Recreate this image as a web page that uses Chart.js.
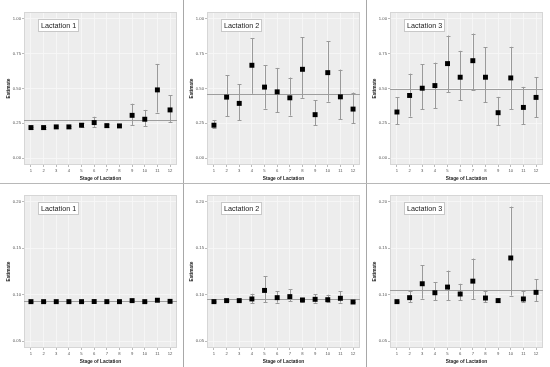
<!DOCTYPE html>
<html>
<head>
<meta charset="utf-8">
<script src="https://cdn.jsdelivr.net/npm/chart.js@4/dist/chart.umd.min.js"></script>
<style>
  html, body { margin: 0; padding: 0; background: #ffffff; }
  #wrap { position: relative; width: 550px; height: 367px; overflow: hidden; background: #fff; }
  canvas { position: absolute; }
  .vl { position: absolute; top: 0; width: 1px; height: 367px; background: #a8a8a8; }
  .hl { position: absolute; left: 0; height: 1px; width: 550px; background: #b8b8b8; }
</style>
</head>
<body>
<div id="wrap"></div>
<script>
// ---------- data ----------
const stages = [1, 2, 3, 4, 5, 6, 7, 8, 9, 10, 11, 12];
const topTicks = [0.00, 0.25, 0.50, 0.75, 1.00];
const bottomTicks = [0.05, 0.10, 0.15, 0.20];
const lactationLabels = ["Lactation 1", "Lactation 2", "Lactation 3"];

// top row
const top1Est  = [0.219, 0.219, 0.224, 0.224, 0.236, 0.255, 0.233, 0.231, 0.307, 0.279, 0.490, 0.346];
const top1Low  = [0.212, 0.212, 0.216, 0.216, 0.225, 0.224, 0.222, 0.222, 0.238, 0.228, 0.327, 0.260];
const top1High = [0.226, 0.226, 0.232, 0.233, 0.249, 0.297, 0.245, 0.240, 0.391, 0.346, 0.677, 0.451];
const top1Ref  = 0.272;

const top2Est  = [0.236, 0.438, 0.393, 0.667, 0.510, 0.476, 0.433, 0.638, 0.312, 0.614, 0.440, 0.352];
const top2Low  = [0.219, 0.300, 0.271, 0.462, 0.355, 0.329, 0.305, 0.433, 0.236, 0.405, 0.279, 0.250];
const top2High = [0.271, 0.595, 0.529, 0.862, 0.669, 0.648, 0.579, 0.869, 0.414, 0.840, 0.636, 0.471];
const top2Ref  = 0.457;

const top3Est  = [0.331, 0.450, 0.502, 0.521, 0.679, 0.581, 0.700, 0.581, 0.326, 0.576, 0.364, 0.436];
const top3Low  = [0.243, 0.298, 0.352, 0.357, 0.474, 0.417, 0.490, 0.402, 0.236, 0.352, 0.245, 0.293];
const top3High = [0.436, 0.607, 0.676, 0.686, 0.881, 0.771, 0.895, 0.798, 0.440, 0.800, 0.512, 0.583];
const top3Ref  = 0.500;

// bottom row
const bot1Est  = [0.0925, 0.0925, 0.0925, 0.0925, 0.0925, 0.0926, 0.0925, 0.0925, 0.0936, 0.0925, 0.0940, 0.0928];
const bot1Low  = [0.0921, 0.0921, 0.0921, 0.0921, 0.0921, 0.0921, 0.0921, 0.0921, 0.0928, 0.0921, 0.0930, 0.0922];
const bot1High = [0.0929, 0.0929, 0.0929, 0.0929, 0.0929, 0.0931, 0.0929, 0.0929, 0.0945, 0.0929, 0.0963, 0.0934];
const bot1Ref  = 0.0929;

const bot2Est  = [0.0925, 0.0936, 0.0936, 0.0954, 0.1046, 0.0968, 0.0979, 0.0943, 0.0950, 0.0946, 0.0961, 0.0921];
const bot2Low  = [0.0921, 0.0930, 0.0930, 0.0910, 0.0920, 0.0914, 0.0929, 0.0918, 0.0914, 0.0920, 0.0914, 0.0917];
const bot2High = [0.0929, 0.0942, 0.0942, 0.1010, 0.1200, 0.1040, 0.1060, 0.0964, 0.1007, 0.1000, 0.1040, 0.0925];
const bot2Ref  = 0.0954;

const bot3Est  = [0.0925, 0.0968, 0.1118, 0.1021, 0.1082, 0.1007, 0.1146, 0.0964, 0.0936, 0.1396, 0.0954, 0.1025];
const bot3Low  = [0.0921, 0.0920, 0.0957, 0.0939, 0.0939, 0.0939, 0.0954, 0.0918, 0.0925, 0.0990, 0.0918, 0.0932];
const bot3High = [0.0929, 0.1040, 0.1318, 0.1132, 0.1260, 0.1118, 0.1390, 0.1040, 0.0960, 0.1950, 0.1040, 0.1164];
const bot3Ref  = 0.1046;

// ---------- panels ----------
const panels = [
  { est: top1Est, low: top1Low, high: top1High, ref: top1Ref, label: lactationLabels[0], ticks: topTicks, ymin: -0.05, ymax: 1.05, col: 0, row: 0 },
  { est: top2Est, low: top2Low, high: top2High, ref: top2Ref, label: lactationLabels[1], ticks: topTicks, ymin: -0.05, ymax: 1.05, col: 1, row: 0 },
  { est: top3Est, low: top3Low, high: top3High, ref: top3Ref, label: lactationLabels[2], ticks: topTicks, ymin: -0.05, ymax: 1.05, col: 2, row: 0 },
  { est: bot1Est, low: bot1Low, high: bot1High, ref: bot1Ref, label: lactationLabels[0], ticks: bottomTicks, ymin: 0.0425, ymax: 0.2075, col: 0, row: 1 },
  { est: bot2Est, low: bot2Low, high: bot2High, ref: bot2Ref, label: lactationLabels[1], ticks: bottomTicks, ymin: 0.0425, ymax: 0.2075, col: 1, row: 1 },
  { est: bot3Est, low: bot3Low, high: bot3High, ref: bot3Ref, label: lactationLabels[2], ticks: bottomTicks, ymin: 0.0425, ymax: 0.2075, col: 2, row: 1 }
];

const FONT = "'Liberation Sans', Arial, sans-serif";

const panelPlugin = {
  id: 'panelDecor',
  beforeDraw(chart) {
    const { ctx, chartArea: a } = chart;
    ctx.save();
    ctx.fillStyle = '#ededed';
    ctx.fillRect(a.left, a.top, a.right - a.left, a.bottom - a.top);
    ctx.restore();
  },
  beforeDatasetsDraw(chart) {
    const p = chart.config.options.plugins.panelDecor;
    const { ctx, chartArea: a, scales } = chart;
    const xs = scales.x, ys = scales.y;
    ctx.save();
    ctx.strokeStyle = '#d6d6d6';
    ctx.lineWidth = 1;
    ctx.strokeRect(Math.round(a.left) + 0.5, Math.round(a.top) + 0.5, Math.round(a.right - a.left) - 1, Math.round(a.bottom - a.top) - 1);
    const ry = Math.round(ys.getPixelForValue(p.ref)) + 0.5;
    ctx.strokeStyle = '#9e9e9e';
    ctx.beginPath();
    ctx.moveTo(a.left, ry);
    ctx.lineTo(a.right, ry);
    ctx.stroke();
    ctx.strokeStyle = '#9a9a9a';
    ctx.lineWidth = 1;
    for (let i = 0; i < stages.length; i++) {
      const x = Math.round(xs.getPixelForValue(stages[i])) + 0.5;
      const y1 = ys.getPixelForValue(p.low[i]);
      const y2 = ys.getPixelForValue(p.high[i]);
      ctx.beginPath();
      ctx.moveTo(x, y1); ctx.lineTo(x, y2);
      ctx.moveTo(x - 2, Math.round(y1) + 0.5); ctx.lineTo(x + 2, Math.round(y1) + 0.5);
      ctx.moveTo(x - 2, Math.round(y2) + 0.5); ctx.lineTo(x + 2, Math.round(y2) + 0.5);
      ctx.stroke();
    }
    ctx.restore();
  },
  afterDraw(chart) {
    const p = chart.config.options.plugins.panelDecor;
    const { ctx, chartArea: a } = chart;
    ctx.save();
    ctx.font = '7.2px ' + FONT;
    const w = ctx.measureText(p.label).width;
    const bx = Math.round(a.left + 14) + 0.5, by = Math.round(a.top + 7) + 0.5;
    const bw = Math.round(w + 5), bh = 12;
    ctx.fillStyle = '#ffffff';
    ctx.fillRect(bx, by, bw, bh);
    ctx.strokeStyle = '#c8c8c8';
    ctx.lineWidth = 1;
    ctx.strokeRect(bx, by, bw, bh);
    ctx.fillStyle = '#1a1a1a';
    ctx.textBaseline = 'middle';
    ctx.textAlign = 'left';
    ctx.fillText(p.label, bx + 2.5, by + bh / 2 + 0.5);
    ctx.restore();
  }
};

const wrap = document.getElementById('wrap');
panels.forEach(p => {
  const c = document.createElement('canvas');
  c.width = 183; c.height = 183;
  c.style.width = '183px'; c.style.height = '183px';
  c.style.left = (p.col * 183) + 'px';
  c.style.top = (p.row * 183) + 'px';
  wrap.appendChild(c);
  new Chart(c.getContext('2d'), {
    type: 'scatter',
    data: {
      datasets: [{
        data: stages.map((s, i) => ({ x: s, y: p.est[i] })),
        pointStyle: 'rect',
        pointRadius: 3.5,
        pointHoverRadius: 3.5,
        backgroundColor: '#000000',
        borderColor: '#000000',
        borderWidth: 0
      }]
    },
    options: {
      responsive: false,
      animation: false,
      devicePixelRatio: 1,
      layout: { padding: { left: 0, right: 6, top: 12, bottom: 0 } },
      plugins: {
        legend: { display: false },
        tooltip: { enabled: false },
        panelDecor: { ref: p.ref, low: p.low, high: p.high, label: p.label }
      },
      scales: {
        x: {
          type: 'linear',
          min: 0.45, max: 12.55,
          afterBuildTicks: s => { s.ticks = stages.map(v => ({ value: v })); },
          afterFit: s => { s.height = 18; },
          ticks: { font: { size: 4.2, family: FONT }, color: '#555', padding: 1, maxRotation: 0, autoSkip: false, callback: v => String(v) },
          grid: { color: '#f8f8f8', lineWidth: 0.8, drawTicks: true, tickLength: 2, tickColor: '#aaa' },
          border: { display: false },
          title: { display: true, text: 'Stage of Lactation', font: { size: 4.8, weight: 'bold', family: FONT }, color: '#222', padding: { top: 0, bottom: 1.2 } }
        },
        y: {
          min: p.ymin, max: p.ymax,
          afterBuildTicks: s => { s.ticks = p.ticks.map(v => ({ value: v })); },
          afterFit: s => { s.width = 24; },
          ticks: { font: { size: 4.2, family: FONT }, color: '#555', padding: 1, callback: v => Number(v).toFixed(2) },
          grid: { color: '#f8f8f8', lineWidth: 0.8, drawTicks: true, tickLength: 2, tickColor: '#aaa' },
          border: { display: false },
          title: { display: true, text: 'Estimate', font: { size: 4.8, weight: 'bold', family: FONT }, color: '#222', padding: { top: 5.3, bottom: 0 } }
        }
      }
    },
    plugins: [panelPlugin]
  });
});

[183, 366].forEach(x => { const d = document.createElement('div'); d.className = 'vl'; d.style.left = x + 'px'; wrap.appendChild(d); });
[183].forEach(y => { const d = document.createElement('div'); d.className = 'hl'; d.style.top = y + 'px'; wrap.appendChild(d); });
</script>
</body>
</html>
